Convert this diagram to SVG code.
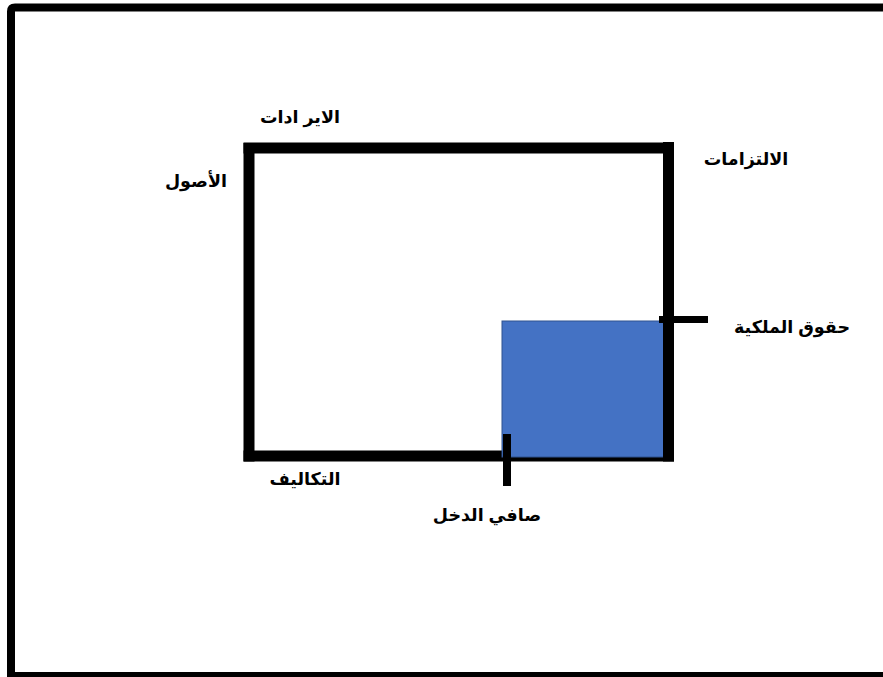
<svg xmlns="http://www.w3.org/2000/svg" width="883" height="677" viewBox="0 0 883 677">
<style>
.lbl{font-family:"Liberation Sans","DejaVu Sans",Arial,sans-serif;font-weight:bold;font-size:17.5px;fill:#000;text-anchor:middle;direction:rtl}
.ln{stroke:#000;fill:none}
</style>
<rect width="883" height="677" fill="#fff"/>
<path d="M 900 7.5 H 15 Q 11 7.5 11 11.5 V 676 H 900" fill="none" stroke="#000" stroke-width="8"/>
<g id="connectors">
<line class="ln" x1="243.5" y1="148" x2="669" y2="148" stroke-width="11"/>
<line class="ln" x1="249" y1="143" x2="249" y2="461.5" stroke-width="11"/>
<line class="ln" x1="243.5" y1="456" x2="674" y2="456" stroke-width="11"/>
</g>
<g id="equity-box">
<rect x="502" y="321" width="163" height="136" fill="#4472C4" stroke="#2F528F" stroke-width="1"/>
</g>
<g id="right-side">
<line class="ln" x1="668.5" y1="142" x2="668.5" y2="461.5" stroke-width="11"/>
<line class="ln" x1="659" y1="319.5" x2="708" y2="319.5" stroke-width="7"/>
<line class="ln" x1="507" y1="434" x2="507" y2="486" stroke-width="8"/>
</g>
<g id="label-revenues"><text class="lbl" x="300" y="123">الاير ادات</text></g>
<g id="label-assets"><text class="lbl" x="196" y="187">الأصول</text></g>
<g id="label-liabilities"><text class="lbl" x="746" y="165">الالتزامات</text></g>
<g id="label-equity"><text class="lbl" x="792" y="333">حقوق الملكية</text></g>
<g id="label-costs"><text class="lbl" x="305" y="485">التكاليف</text></g>
<g id="label-netincome"><text class="lbl" x="487" y="521">صافي الدخل</text></g>
</svg>
